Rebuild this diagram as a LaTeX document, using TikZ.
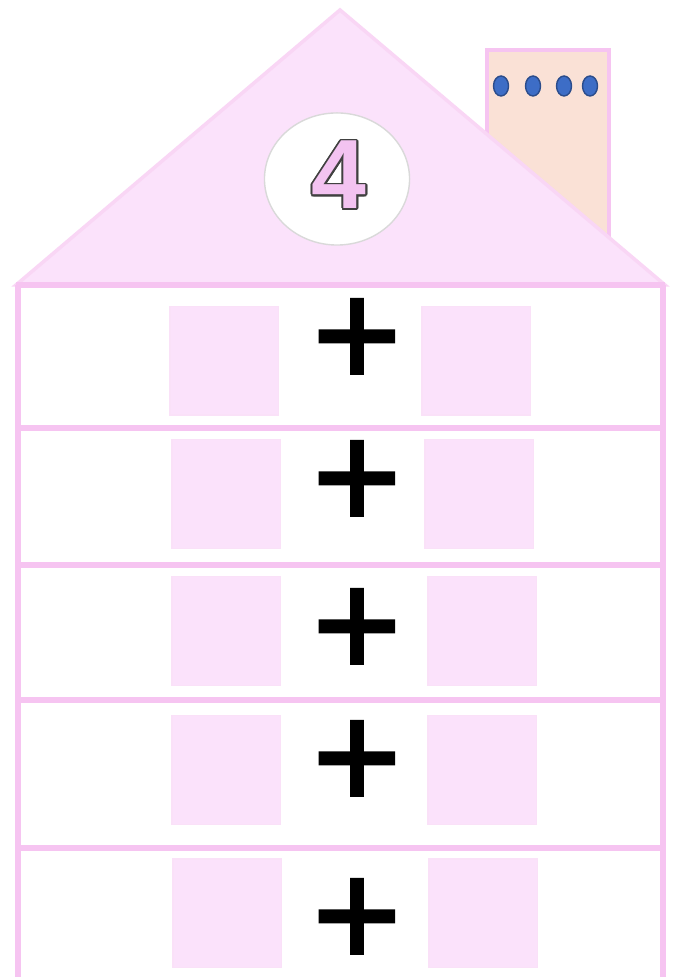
\documentclass[tikz,border=0pt]{standalone}
\usepackage{fontspec}
\setmainfont{Liberation Sans}
\newfontfamily\plusfont[FakeBold=2]{Liberation Sans}
\usepackage{contour}
\usetikzlibrary{shapes.geometric,positioning}
\definecolor{roof}{HTML}{FBE2FB}
\definecolor{wall}{HTML}{F6C4F1}
\definecolor{chim}{HTML}{FAE1D6}
\definecolor{dot}{HTML}{3D6DC6}
\definecolor{digit}{HTML}{F3C3F1}
\contourlength{0.5pt}
\tikzset{
  wallline/.style={wall,line width=1.5pt},
  cell/.style={rectangle,fill=roof,draw=wall!50,line width=0.3pt,minimum width=1.08cm,minimum height=1.08cm,inner sep=0pt},
  plussign/.style={font=\plusfont\fontsize{43}{43}\selectfont,inner sep=0pt},
}

\begin{document}
\begin{tikzpicture}[x=0.01cm, y=-0.01cm]
  \useasboundingbox[fill=white] (0,0) rectangle (678,977);

  % chimney, partly hidden by the roof
  \filldraw[fill=chim,draw=wall,line width=1pt] (487,50) rectangle (609,260);
  \foreach \x in {501,533,564,590}
    \filldraw[fill=dot,draw=dot!70!black,line width=0.4pt] (\x,86) ellipse [x radius=0.075cm,y radius=0.1cm];

  % roof
  \filldraw[fill=roof,draw=wall!70,line width=1pt] (16,285) -- (340,10) -- (665,285) -- cycle;
  \node[ellipse,fill=white,draw=black!15,line width=0.4pt,minimum width=1.45cm,minimum height=1.32cm] (badge) at (337,179) {};
  \node[font=\fontsize{28}{28}\selectfont\bfseries,inner sep=0pt] (num) at (339,176) {\contour{black!75}{\textcolor{digit}{4}}};

  % walls and floors
  \draw[wallline] (16,285) -- (665,285);
  \draw[wallline] (18,285) -- (18,977);
  \draw[wallline] (663,285) -- (663,977);
  \foreach \y in {428,565,700,848}
    \draw[wallline] (18,\y) -- (663,\y);

  % rows
  \foreach \i/\by/\py/\lx/\rx in {1/361/343/224/476, 2/494/485/226/479, 3/631/633/226/482, 4/770/765/226/482, 5/913/923/227/483} {
    \node[cell] (l\i) at (\lx,\by) {};
    \node[cell] (r\i) at (\rx,\by) {};
    \node[plussign] (p\i) at (357,\py) {+};
  }
\end{tikzpicture}
\end{document}
